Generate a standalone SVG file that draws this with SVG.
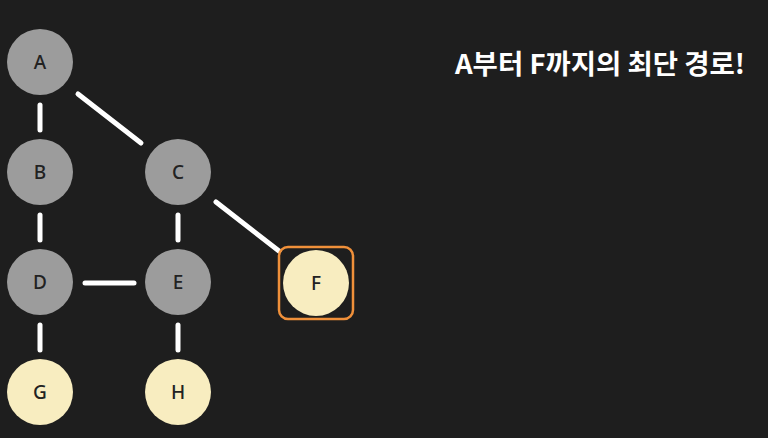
<svg xmlns="http://www.w3.org/2000/svg" width="768" height="438" viewBox="0 0 768 438">
<style>
.bg{fill:#1e1e1e}
.g{fill:#9c9c9c}
.y{fill:#f8edc0}
.lbl{font-family:"Noto Sans","Open Sans",sans-serif;font-size:19px;font-weight:500;fill:#222;text-anchor:middle;dominant-baseline:central}
.edge{stroke:#ffffff;stroke-width:5;stroke-linecap:round;fill:none}
.title{font-family:"Noto Sans CJK KR","Noto Sans",sans-serif;font-weight:bold;font-size:27px;fill:#ffffff}
</style>
<rect class="bg" x="0" y="0" width="768" height="438"/>
<g id="connectors">
<line class="edge" x1="40" y1="105" x2="40" y2="130"/>
<line class="edge" x1="78" y1="94" x2="141" y2="143"/>
<line class="edge" x1="40" y1="215" x2="40" y2="240"/>
<line class="edge" x1="178" y1="215" x2="178" y2="240"/>
<line class="edge" x1="216" y1="202" x2="279" y2="251"/>
<line class="edge" x1="85" y1="283" x2="134" y2="283"/>
<line class="edge" x1="40" y1="325" x2="40" y2="350"/>
<line class="edge" x1="178" y1="325" x2="178" y2="350"/>
</g>
<g id="node-A"><circle class="g" cx="40" cy="62" r="33"/><text class="lbl" x="40" y="62">A</text></g>
<g id="node-B"><circle class="g" cx="40" cy="172" r="33"/><text class="lbl" x="40" y="172">B</text></g>
<g id="node-C"><circle class="g" cx="178" cy="172" r="33"/><text class="lbl" x="178" y="172">C</text></g>
<g id="node-D"><circle class="g" cx="40" cy="282" r="33"/><text class="lbl" x="40" y="282">D</text></g>
<g id="node-E"><circle class="g" cx="178" cy="282" r="33"/><text class="lbl" x="178" y="282">E</text></g>
<g id="node-F"><rect x="279" y="247" width="74" height="72" rx="9" fill="none" stroke="#f0903a" stroke-width="2.5"/><circle class="y" cx="316" cy="283" r="33"/><text class="lbl" x="316" y="283">F</text></g>
<g id="node-G"><circle class="y" cx="40" cy="392" r="33"/><text class="lbl" x="40" y="392">G</text></g>
<g id="node-H"><circle class="y" cx="178" cy="392" r="33"/><text class="lbl" x="178" y="392">H</text></g>
<text class="title" x="455" y="74" textLength="290" lengthAdjust="spacingAndGlyphs">A부터 F까지의 최단 경로!</text>
</svg>
